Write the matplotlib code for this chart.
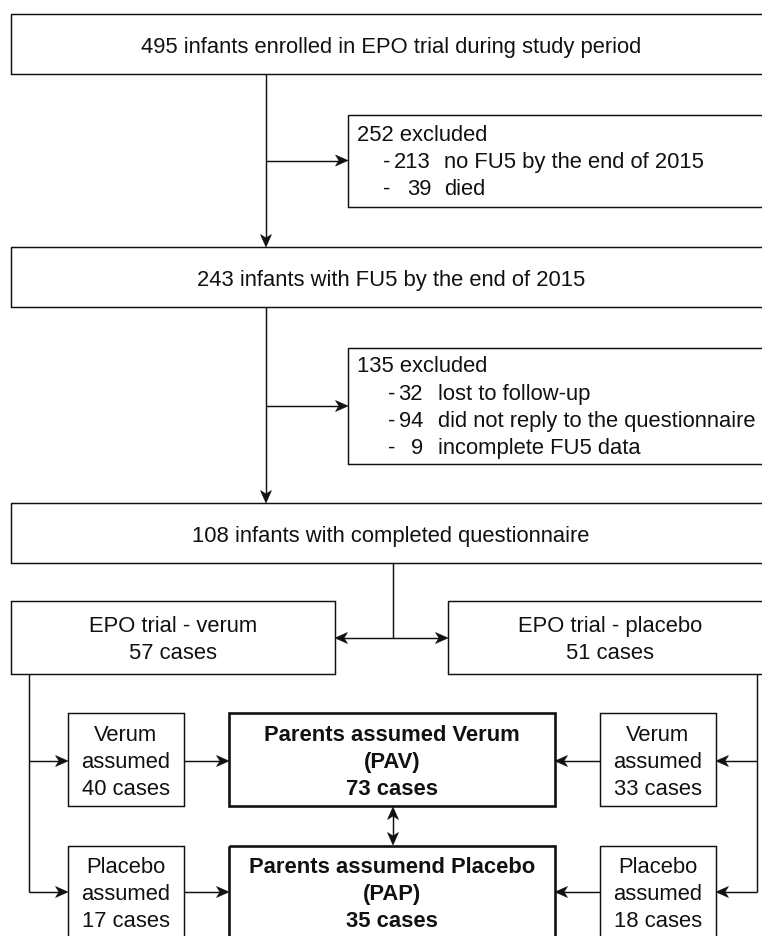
import matplotlib
matplotlib.use("Agg")
import matplotlib.pyplot as plt
from matplotlib.patches import Rectangle, Polygon
import numpy as np

# ---- data (flow counts and labels) ----
enrolled = 495
excluded1 = 252
excl1_counts = ["213", "39"]
excl1_reasons = ["no FU5 by the end of 2015", "died"]
with_fu5 = 243
excluded2 = 135
excl2_counts = ["32", "94", "9"]
excl2_reasons = ["lost to follow-up", "did not reply to the questionnaire", "incomplete FU5 data"]
completed = 108
arm_names = ["verum", "placebo"]
arm_counts = [57, 51]
verum_assumed = [40, 33]     # from verum arm, from placebo arm
placebo_assumed = [17, 18]
pav_total = 73
pap_total = 35

plt.rcParams['font.family'] = ['Liberation Sans', 'DejaVu Sans']
FS = 15.8
LW = 1.05
TLW = 1.9
C = "#111111"

fig = plt.figure(figsize=(7.62, 9.36), dpi=100)
ax = fig.add_axes([0, 0, 1, 1])
ax.set_xlim(0, 762)
ax.set_ylim(936, 0)
ax.axis("off")


def box(x0, y0, x1, y1, lw=LW):
    ax.add_patch(Rectangle((x0, y0), x1 - x0, y1 - y0, fill=False, lw=lw,
                           edgecolor=C, clip_on=False, joinstyle="miter"))


def line(pts):
    pts = np.array(pts, dtype=float)
    ax.plot(pts[:, 0], pts[:, 1], color=C, lw=LW, solid_capstyle="butt",
            solid_joinstyle="miter")


def head(tip, d):
    d = np.array(d, dtype=float)
    d = d / np.linalg.norm(d)
    p = np.array([-d[1], d[0]])
    tip = np.array(tip, dtype=float)
    L, W = 12.5, 5.5
    pts = [tip, tip - L * d + W * p, tip - 0.72 * L * d, tip - L * d - W * p]
    ax.add_patch(Polygon(pts, closed=True, facecolor=C, edgecolor=C, lw=0.4))


def arrow(p0, p1, both=False):
    p0 = np.array(p0, float)
    p1 = np.array(p1, float)
    d = p1 - p0
    n = d / np.linalg.norm(d)
    a = p0 + n * 6 if both else p0
    line([a, p1 - n * 6])
    head(p1, d)
    if both:
        head(p0, -d)


def t(x, y, s, ha="center", bold=False):
    ax.text(x, y, s, ha=ha, va="baseline", fontsize=FS, color=C,
            fontweight="bold" if bold else "normal")


R = 772  # right edges run past the image border

# top boxes
box(10.5, 14, R, 74)
t(391, 53, f"{enrolled} infants enrolled in EPO trial during study period")
arrow((266, 74), (266, 247))
arrow((266, 160.5), (348, 160.5))
box(348, 115, R, 207)
t(357, 141, f"{excluded1} excluded", ha="left")
for i, (c, r) in enumerate(zip(excl1_counts, excl1_reasons)):
    yb = 168 + 27 * i
    t(383, yb, "-", ha="left")
    t(431, yb, c, ha="right")
    t(444, yb, r, ha="left")

box(10.5, 247, R, 307)
t(391, 286, f"{with_fu5} infants with FU5 by the end of 2015")
arrow((266, 307), (266, 503))
arrow((266, 406), (348, 406))
box(348, 348, R, 464)
t(357, 372, f"{excluded2} excluded", ha="left")
for i, (c, r) in enumerate(zip(excl2_counts, excl2_reasons)):
    yb = 400 + 27 * i
    t(388, yb, "-", ha="left")
    t(423, yb, c, ha="right")
    t(438, yb, r, ha="left")

box(10.5, 503, R, 563)
t(391, 542, f"{completed} infants with completed questionnaire")

# split into arms
line([(393, 563), (393, 638)])
arrow((335, 638), (448, 638), both=True)
box(10.5, 601, 335, 674)
box(448, 601, R, 674)
t(173, 632, f"EPO trial - {arm_names[0]}")
t(173, 659, f"{arm_counts[0]} cases")
t(610, 632, f"EPO trial - {arm_names[1]}")
t(610, 659, f"{arm_counts[1]} cases")

# side branches
line([(29, 674), (29, 892)])
line([(757, 674), (757, 892)])
arrow((29, 761), (68, 761))
arrow((29, 892), (68, 892))
arrow((757, 761), (716, 761))
arrow((757, 892), (716, 892))

rows = [(713, 806, 741, "Verum", verum_assumed, "Parents assumed Verum", "(PAV)", pav_total),
        (846, 939, 873, "Placebo", placebo_assumed, "Parents assumend Placebo", "(PAP)", pap_total)]
for y0, y1, yb, name, vals, title, abbr, tot in rows:
    ym = 761 if name == "Verum" else 892
    box(68, y0, 184, y1)
    box(600, y0, 716, y1)
    box(229, y0, 555, y1, lw=TLW)
    for cx, v in [(126, vals[0]), (658, vals[1])]:
        t(cx, yb, name)
        t(cx, yb + 27, "assumed")
        t(cx, yb + 54, f"{v} cases")
    t(392, yb, title, bold=True)
    t(392, yb + 27, abbr, bold=True)
    t(392, yb + 54, f"{tot} cases", bold=True)
    arrow((184, ym), (229, ym))
    arrow((600, ym), (555, ym))

arrow((393, 807), (393, 845), both=True)

fig.savefig("out.png", dpi=100, facecolor="white")
